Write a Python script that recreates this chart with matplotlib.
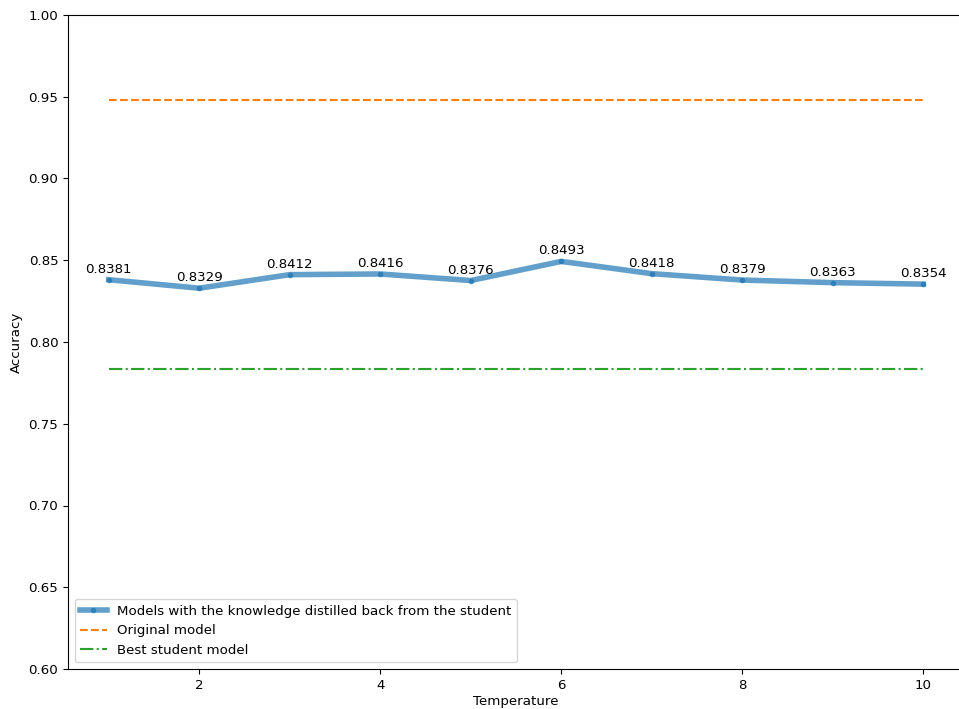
import matplotlib
matplotlib.use("Agg")
import matplotlib.pyplot as plt

temperatures = [1, 2, 3, 4, 5, 6, 7, 8, 9, 10]
accuracies = [0.8381, 0.8329, 0.8412, 0.8416, 0.8376, 0.8493, 0.8418, 0.8379, 0.8363, 0.8354]
original_acc = 0.9478
student_acc = 0.7834

plt.rcParams['font.size'] = 9.6

fig = plt.figure(figsize=(9.59, 7.09), dpi=100)
ax = fig.add_axes([68 / 959, 40 / 709, 896 / 959, 654 / 709])

ax.plot(temperatures, accuracies, marker='.', linewidth=4, alpha=0.7,
        label="Models with the knowledge distilled back from the student")
ax.plot(temperatures, [original_acc] * len(temperatures), '--',
        label="Original model")
ax.plot(temperatures, [student_acc] * len(temperatures), '-.',
        label="Best student model")

for t, a in zip(temperatures, accuracies):
    ax.annotate("%.4f" % a, (t, a), xytext=(0, 5), textcoords='offset points',
                ha='center')

ax.set_ylim(0.6, 1.0)
ax.set_xlabel("Temperature", labelpad=2)
ax.set_ylabel("Accuracy")
ax.spines['right'].set_visible(False)
ax.legend(loc='lower left')

fig.savefig("out.png", dpi=100)
